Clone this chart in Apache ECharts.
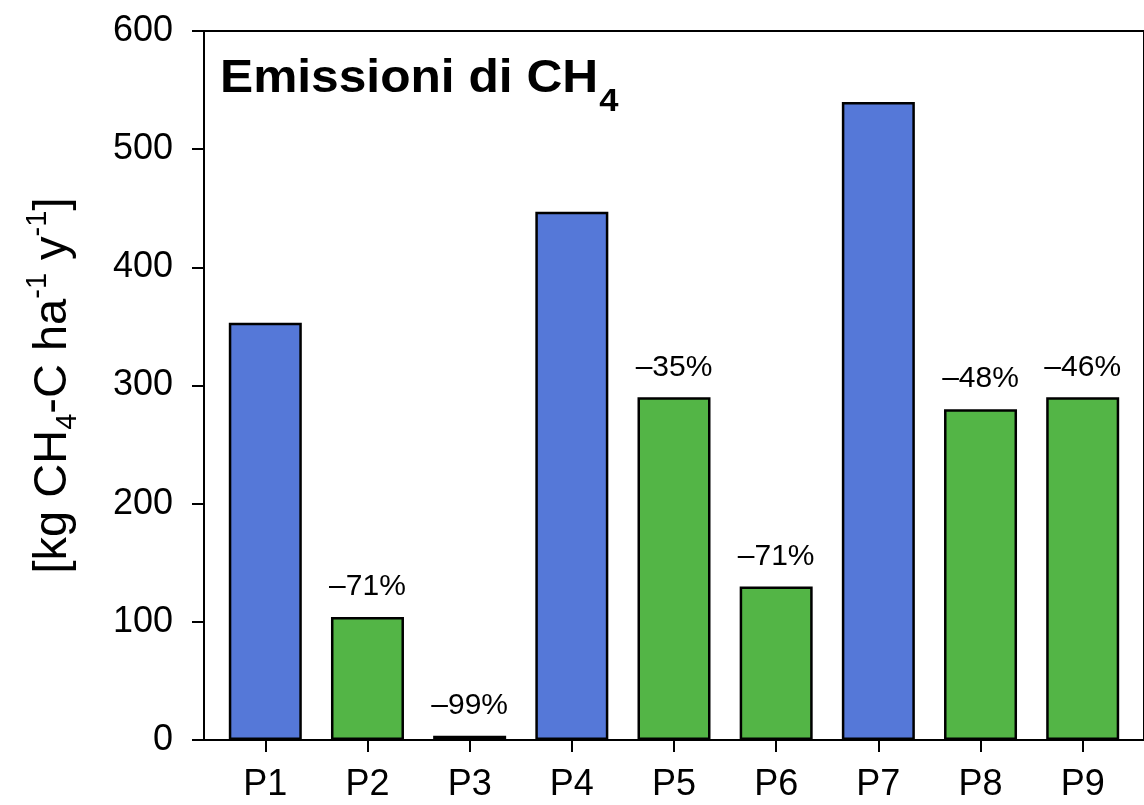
<!DOCTYPE html>
<html>
<head>
<meta charset="utf-8">
<title>Emissioni di CH4</title>
<script src="https://cdn.jsdelivr.net/npm/echarts@6/dist/echarts.min.js"></script>
<style>
  html, body { margin: 0; padding: 0; background: #fff; }
  #chart { width: 1144px; height: 805px; }
</style>
</head>
<body>
<div id="chart"></div>
<script>
// Plots and their yearly CH4 emissions [kg CH4-C ha-1 y-1]
const categories = ['P1', 'P2', 'P3', 'P4', 'P5', 'P6', 'P7', 'P8', 'P9'];
const emissions = [353, 104, 3.5, 447, 290, 130, 540, 280, 290];
// reference plots (blue) vs. alternative management (green)
const groups = ['ref', 'alt', 'alt', 'ref', 'alt', 'alt', 'ref', 'alt', 'alt'];
// reduction relative to the reference plot of each block
const reductionLabels = ['', '\u201371%', '\u201399%', '', '\u201335%', '\u201371%', '', '\u201348%', '\u201346%'];
const yTicks = { min: 0, max: 600, step: 100 };

const palette = { ref: '#5578D8', alt: '#53B546' };
const FONT = '"Liberation Sans", Arial, Helvetica, sans-serif';

const positions = categories.map((c, i) => i + 1);

const barData = categories.map((c, i) => ({
  value: [positions[i], emissions[i]],
  itemStyle: { color: palette[groups[i]] },
  label: { formatter: reductionLabels[i] }
}));

const chart = echarts.init(document.getElementById('chart'), null, { renderer: 'canvas' });

chart.setOption({
  backgroundColor: '#fff',
  animation: false,
  // panel heading, set in a slightly widened bold face
  graphic: [{
    type: 'text',
    x: 220,
    y: 41,
    scaleX: 1.08,
    z: 10,
    style: {
      text: 'Emissioni di CH{sub|4}',
      fontFamily: FONT,
      fontWeight: 'bold',
      fontSize: 46,
      lineHeight: 76,
      fill: '#000',
      align: 'left',
      verticalAlign: 'top',
      rich: {
        sub: { fontFamily: FONT, fontWeight: 'bold', fontSize: 32, lineHeight: 30, padding: [46, 0, 0, 1], fill: '#000' }
      }
    }
  }],
  grid: {
    left: 204,
    right: -9,
    top: 31,
    bottom: 65,
    show: true,
    borderColor: '#000',
    borderWidth: 2,
    backgroundColor: 'transparent'
  },
  xAxis: {
    type: 'value',
    min: 0.4,
    max: 9.6,
    splitLine: { show: false },
    axisLine: { show: true, lineStyle: { color: '#000', width: 2 } },
    axisTick: { show: true, length: 12, customValues: positions, lineStyle: { color: '#000', width: 2 } },
    axisLabel: {
      customValues: positions,
      formatter: v => categories[Math.round(v) - 1] || '',
      fontFamily: FONT,
      fontSize: 36,
      color: '#000',
      margin: 27
    }
  },
  yAxis: {
    type: 'value',
    min: yTicks.min,
    max: yTicks.max,
    interval: yTicks.step,
    splitLine: { show: false },
    axisLine: { show: true, lineStyle: { color: '#000', width: 2 } },
    axisTick: { show: true, length: 12, lineStyle: { color: '#000', width: 2 } },
    axisLabel: { fontFamily: FONT, fontSize: 36, color: '#000', margin: 31 },
    name: '[kg CH{sub|4}-C ha{sup|-1} y{sup|-1}]',
    nameLocation: 'middle',
    nameRotate: 90,
    nameGap: 121,
    nameTextStyle: {
      fontFamily: FONT,
      fontSize: 47,
      color: '#000',
      lineHeight: 60,
      rich: {
        sub: { fontFamily: FONT, fontSize: 29, lineHeight: 28, padding: [30, 0, 0, 0], color: '#000' },
        sup: { fontFamily: FONT, fontSize: 29, lineHeight: 28, padding: [0, 0, 30, 0], color: '#000' }
      }
    }
  },
  series: [{
    type: 'bar',
    data: barData,
    barWidth: 73,
    itemStyle: { borderColor: '#000', borderWidth: 2.5 },
    label: {
      show: true,
      position: 'top',
      distance: 15,
      fontFamily: FONT,
      fontSize: 30,
      color: '#000'
    }
  }]
});
</script>
</body>
</html>
